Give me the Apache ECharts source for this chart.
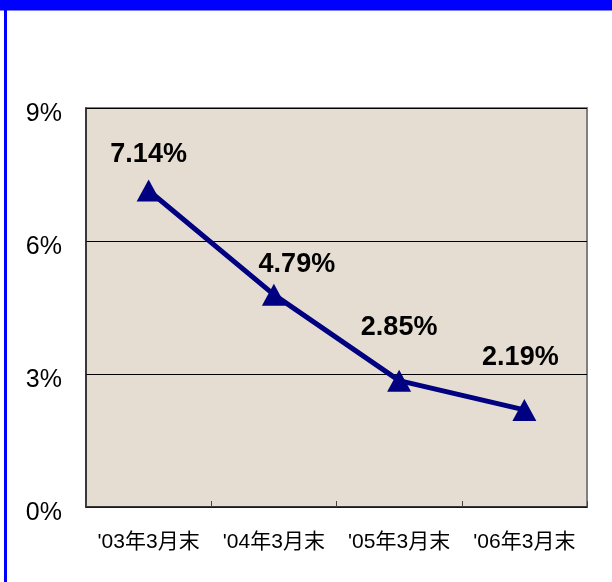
<!DOCTYPE html>
<html>
<head>
<meta charset="utf-8">
<script src="https://cdn.jsdelivr.net/npm/echarts@6/dist/echarts.min.js"></script>
<style>
  html, body { margin: 0; padding: 0; background: #fff; }
  #chart { width: 612px; height: 582px; }
</style>
</head>
<body>
<div id="chart"></div>
<script>
const categories = ["'03年3月末", "'04年3月末", "'05年3月末", "'06年3月末"]
const ratios = [7.14, 4.79, 2.85, 2.19]
const yTicks = [0, 3, 6, 9]

// label offsets (px from the marker)
const labelOffsets = [[0, -36], [23, -30], [0, -53], [-4, -52]]

const FONT = '"Liberation Sans", "Noto Sans CJK JP", sans-serif'

const chart = echarts.init(document.getElementById('chart'))

const option = {
  animation: false,
  backgroundColor: '#ffffff',
  graphic: [
    // blue frame: top band + left strip
    { type: 'rect', shape: { x: 0, y: 0, width: 612, height: 10 }, style: { fill: '#0000ff' } },
    { type: 'rect', shape: { x: 0, y: 10, width: 612, height: 1 }, style: { fill: '#8080ff' } },
    { type: 'rect', shape: { x: 4, y: 10, width: 3, height: 572 }, style: { fill: '#0000ff' } }
  ],
  grid: {
    left: 86,
    right: 25,
    top: 108,
    bottom: 75,
    show: true,
    backgroundColor: '#e5ddd2',
    borderColor: '#808080',
    borderWidth: 2
  },
  xAxis: {
    type: 'category',
    data: categories,
    boundaryGap: true,
    axisLine: { lineStyle: { color: '#222', width: 1.5 } },
    axisTick: { show: true, inside: true, interval: 0, length: 6, lineStyle: { color: '#444' } },
    axisLabel: { color: '#000', fontSize: 21, fontFamily: FONT, margin: 25, interval: 0 }
  },
  yAxis: {
    type: 'value',
    min: yTicks[0],
    max: yTicks[yTicks.length - 1],
    interval: 3,
    axisLine: { show: true, lineStyle: { color: '#222', width: 1.5 } },
    axisTick: { show: false },
    splitLine: { show: true, lineStyle: { color: '#000', width: 1 } },
    axisLabel: {
      margin: 24,
      formatter: '{a|{value}%}',
      rich: {
        a: {
          color: '#000',
          fontSize: 25,
          fontFamily: FONT,
          padding: [12, 0, 0, 0]
        }
      }
    }
  },
  series: [{
    type: 'line',
    data: ratios.map((v, i) => ({
      value: v,
      label: { offset: labelOffsets[i] }
    })),
    symbol: 'triangle',
    symbolSize: [24, 22],
    lineStyle: { color: '#000080', width: 5 },
    itemStyle: { color: '#000080' },
    label: {
      show: true,
      position: 'inside',
      formatter: p => p.value.toFixed(2) + '%',
      color: '#000',
      fontSize: 27,
      fontWeight: 'bold',
      fontFamily: FONT
    }
  }]
}

chart.setOption(option)
</script>
</body>
</html>
